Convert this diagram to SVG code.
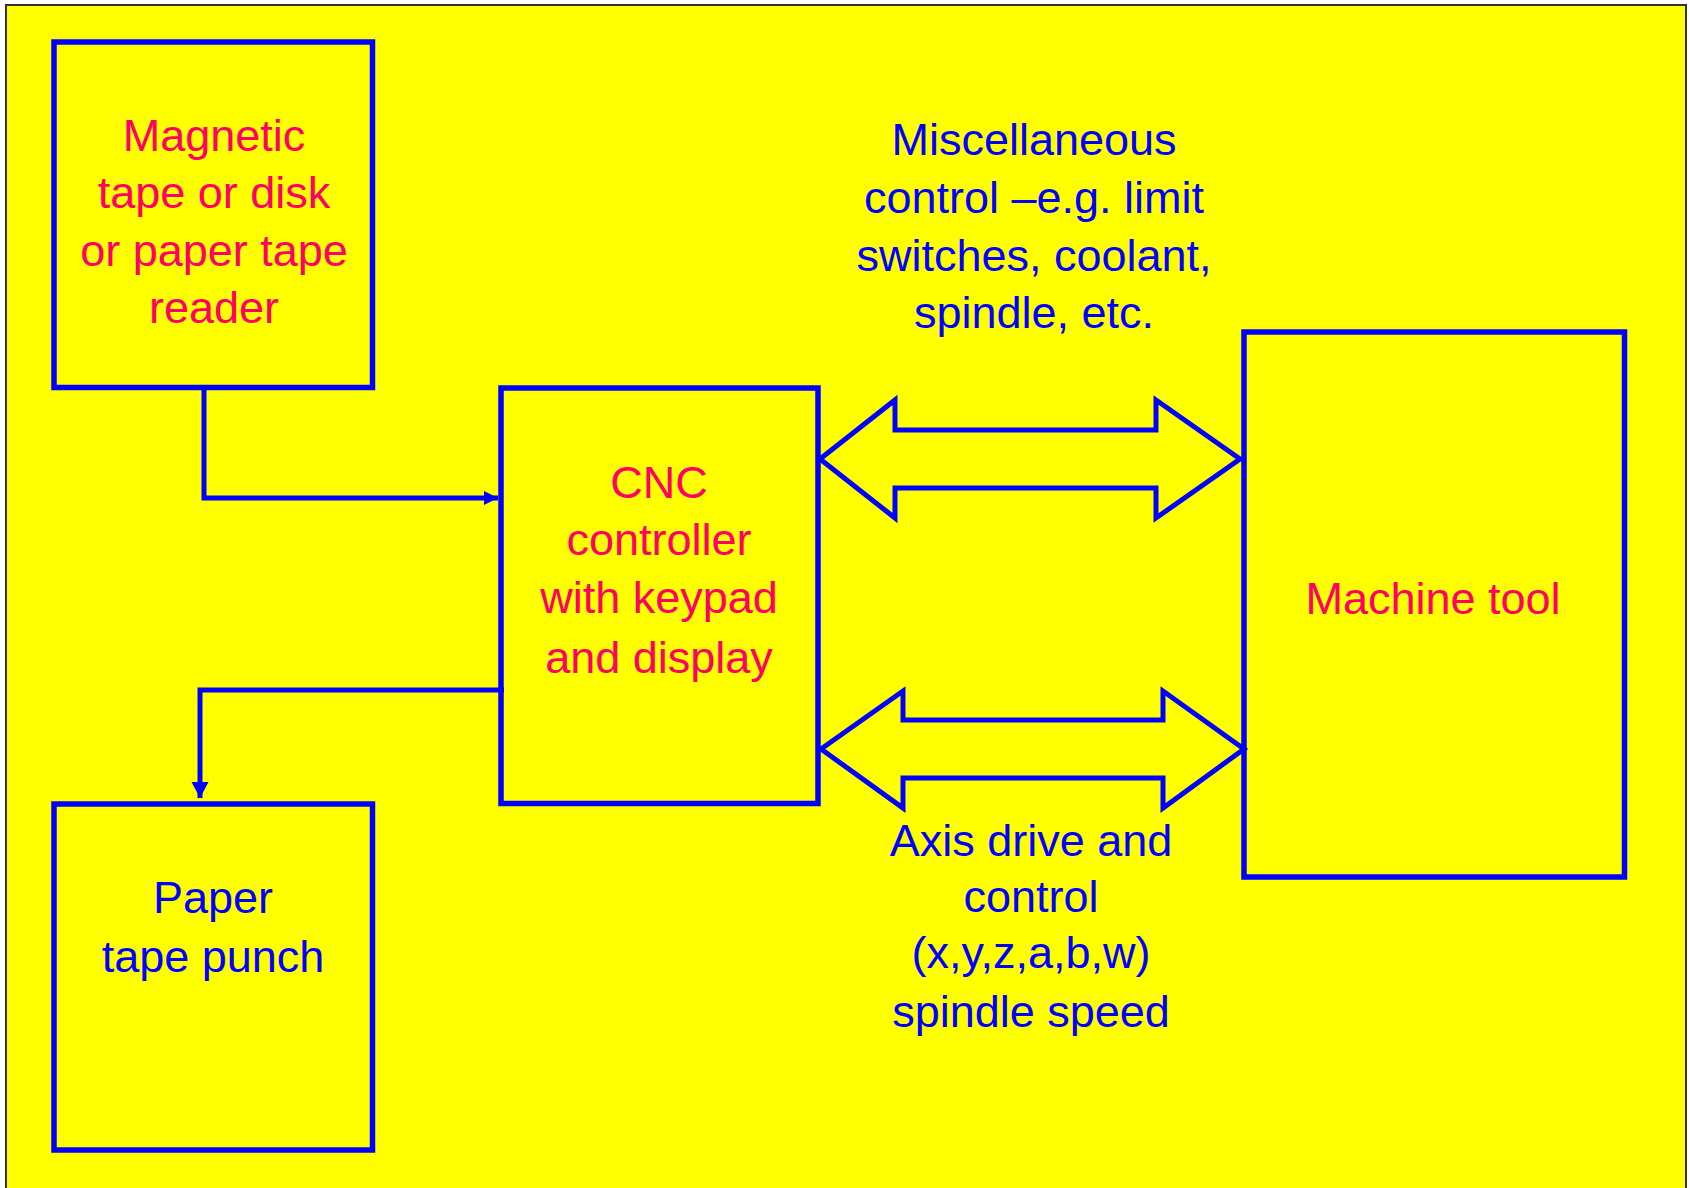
<svg xmlns="http://www.w3.org/2000/svg" width="1689" height="1188" viewBox="0 0 1689 1188">
<style>
.box{fill:none;stroke:#0000FF;stroke-width:5.5}
.conn{fill:none;stroke:#0000FF;stroke-width:5}
.dbl{fill:none;stroke:#0000FF;stroke-width:5;stroke-linejoin:miter}
text{font-family:"Liberation Sans",Arial,sans-serif;font-size:45px;text-anchor:middle}
.pink{fill:#FF0066}
.blue{fill:#0000FF}
</style>
<defs>
<marker id="ahR" markerUnits="userSpaceOnUse" markerWidth="16" markerHeight="16" refX="14" refY="7" orient="auto"><path d="M0,0 L14,7 L0,14 Z" fill="#0000FF"/></marker>
<marker id="ahD" markerUnits="userSpaceOnUse" markerWidth="18" markerHeight="18" refX="16" refY="8.5" orient="auto"><path d="M0,0 L16,8.5 L0,17 Z" fill="#0000FF"/></marker>
</defs>
<rect x="0" y="0" width="1689" height="1188" fill="#FFFFFF"/>
<rect x="6" y="5" width="1680" height="1190" fill="#FFFF00" stroke="#333333" stroke-width="2"/>
<g id="connectors">
<path class="conn" d="M204,390 L204,498 L498,498" marker-end="url(#ahR)"/>
<path class="conn" d="M504,690 L200,690 L200,798" marker-end="url(#ahD)"/>
<path id="misc-arrow" class="dbl" d="M820,459 L895,400 L895,430 L1156,430 L1156,400 L1240,459 L1156,518 L1156,488 L895,488 L895,518 Z"/>
<path id="axis-arrow" class="dbl" d="M821,749 L903,691 L903,720 L1163,720 L1163,691 L1244,749 L1163,808 L1163,778 L903,778 L903,808 Z"/>
</g>
<g id="magnetic">
<rect class="box" x="54" y="42" width="318.5" height="345.5"/>
<text class="pink" x="214" y="151">Magnetic</text>
<text class="pink" x="214" y="208">tape or disk</text>
<text class="pink" x="214" y="266">or paper tape</text>
<text class="pink" x="214" y="323">reader</text>
</g>
<g id="cnc">
<rect class="box" x="501" y="388" width="317" height="415.5"/>
<text class="pink" x="659" y="498">CNC</text>
<text class="pink" x="659" y="555">controller</text>
<text class="pink" x="659" y="613">with keypad</text>
<text class="pink" x="659" y="673">and display</text>
</g>
<g id="punch">
<rect class="box" x="54" y="804" width="318.5" height="346"/>
<text class="blue" x="213" y="913">Paper</text>
<text class="blue" x="213" y="972">tape punch</text>
</g>
<g id="machine">
<rect class="box" x="1244" y="332" width="380.5" height="545"/>
<text class="pink" x="1433" y="614">Machine tool</text>
</g>
<g id="misc-label">
<text class="blue" x="1034" y="155">Miscellaneous</text>
<text class="blue" x="1034" y="213">control –e.g. limit</text>
<text class="blue" x="1034" y="271">switches, coolant,</text>
<text class="blue" x="1034" y="328">spindle, etc.</text>
</g>
<g id="axis-label">
<text class="blue" x="1031" y="856">Axis drive and</text>
<text class="blue" x="1031" y="912">control</text>
<text class="blue" x="1031" y="968">(x,y,z,a,b,w)</text>
<text class="blue" x="1031" y="1027">spindle speed</text>
</g>
</svg>
